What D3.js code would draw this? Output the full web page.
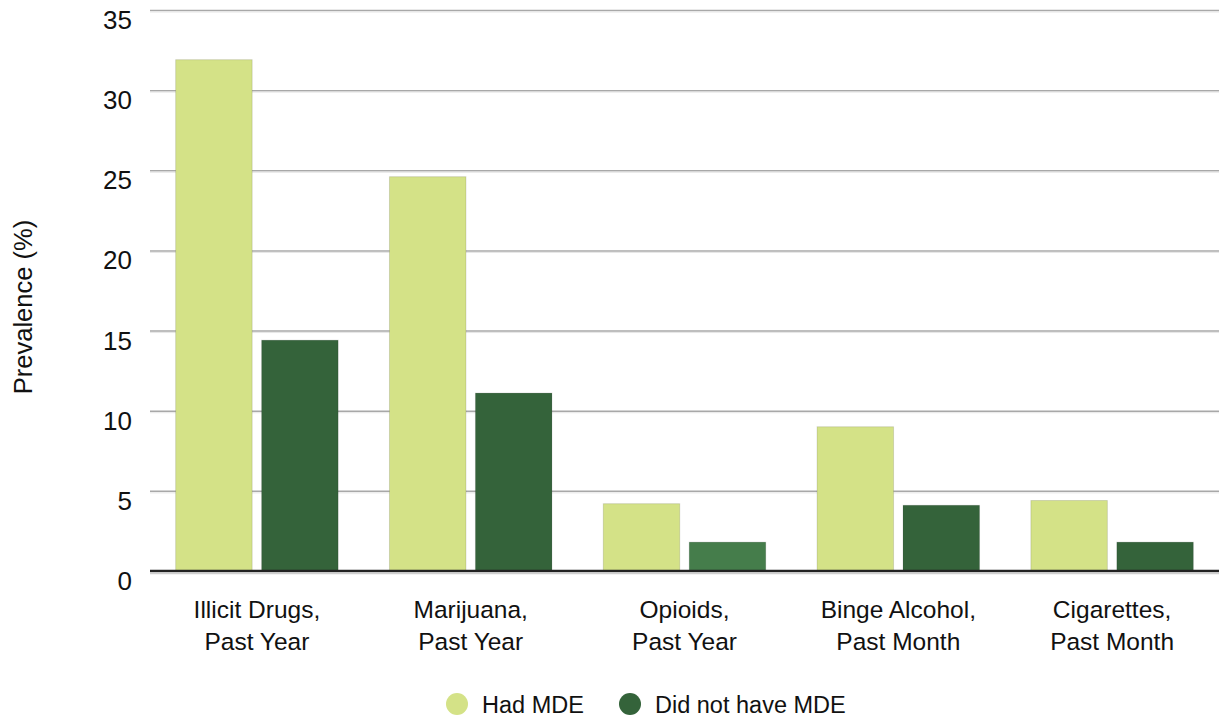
<!DOCTYPE html>
<html><head><meta charset="utf-8">
<script src="https://cdn.jsdelivr.net/npm/d3@7/dist/d3.min.js"></script>
<style>body{margin:0;background:#fff;}svg{display:block;font-family:"Liberation Sans",Arial,Helvetica,sans-serif;}</style>
</head><body>
<svg id="c" width="1219" height="719"></svg>
<script>
const categories = [["Illicit Drugs,","Past Year"],["Marijuana,","Past Year"],["Opioids,","Past Year"],["Binge Alcohol,","Past Month"],["Cigarettes,","Past Month"]];
const seriesNames = ["Had MDE","Did not have MDE"];
const hadMDE = [31.9, 24.6, 4.2, 9.0, 4.4];
const noMDE = [14.4, 11.1, 1.8, 4.1, 1.8];
const yTicks = [0,5,10,15,20,25,30,35];

(function(){
const svg = d3.select("#c");
const pLeft = 150, pRight = 1219, pTop = 10, pBottom = 571;
const x = d3.scaleBand().domain(categories.map((d,i)=>i)).range([pLeft,pRight]).paddingInner(0.24).paddingOuter(0.12);
const x1 = d3.scaleBand().domain([0,1]).range([0,x.bandwidth()]).paddingInner(0.11);
const y = d3.scaleLinear().domain([0,35]).range([pBottom,pTop]);
const colors = ["#d4e287","#34633a"];

// gridlines
svg.append("g").selectAll("line").data(yTicks.filter(t=>t>0)).join("line")
  .attr("x1",pLeft).attr("x2",pRight).attr("y1",d=>y(d)+0.5).attr("y2",d=>y(d)+0.5)
  .attr("stroke","#a8a8a8").attr("stroke-width",1.5);
svg.append("g").selectAll("line").data(yTicks.filter(t=>t>0)).join("line")
  .attr("x1",pLeft).attr("x2",pRight).attr("y1",d=>y(d)+2).attr("y2",d=>y(d)+2)
  .attr("stroke","#e6e6e6").attr("stroke-width",1);

// y tick labels
svg.append("g").selectAll("text").data(yTicks).join("text")
  .attr("x",132).attr("y",d=>y(d)+19).attr("text-anchor","end")
  .attr("font-size",26).attr("fill","#111").text(d=>d);

// bars
const data = [];
categories.forEach((c,i)=>{ data.push({i,s:0,v:hadMDE[i]}); data.push({i,s:1,v:noMDE[i]}); });
svg.append("g").selectAll("rect").data(data).join("rect")
  .attr("x",d=>x(d.i)+x1(d.s)).attr("width",x1.bandwidth())
  .attr("y",d=>y(d.v)).attr("height",d=>y(0)-y(d.v))
  .attr("fill",d=> d.s===1 && d.i===2 ? "#457d4b" : colors[d.s])
  .attr("stroke","rgba(0,0,0,0.12)").attr("stroke-width",1);

// baseline
svg.append("line").attr("x1",pLeft).attr("x2",pRight).attr("y1",y(0)).attr("y2",y(0))
  .attr("stroke","#222").attr("stroke-width",2.5);
svg.append("line").attr("x1",pLeft).attr("x2",pRight).attr("y1",y(0)+2.5).attr("y2",y(0)+2.5)
  .attr("stroke","#cfcfcf").attr("stroke-width",1.5);

// x labels
const xl = svg.append("g").selectAll("text").data(categories).join("text")
  .attr("text-anchor","middle").attr("font-size",24.5).attr("fill","#111")
  .attr("transform",(d,i)=>`translate(${x(i)+x.bandwidth()/2},0)`);
xl.append("tspan").attr("x",0).attr("y",618).text(d=>d[0]);
xl.append("tspan").attr("x",0).attr("y",650).text(d=>d[1]);

// y title
svg.append("text").attr("transform","translate(32,307) rotate(-90)")
  .attr("text-anchor","middle").attr("font-size",25.5).attr("fill","#111").text("Prevalence (%)");

// legend
const legX = [457, 630];
const lg = svg.append("g").selectAll("g").data(seriesNames).join("g")
  .attr("transform",(d,i)=>`translate(${legX[i]},704)`);
lg.append("circle").attr("r",11).attr("fill",(d,i)=>colors[i]);
lg.append("text").attr("x",25).attr("y",8.5).attr("font-size",23.5).attr("fill","#111").text(d=>d);
})();
</script>
</body></html>
